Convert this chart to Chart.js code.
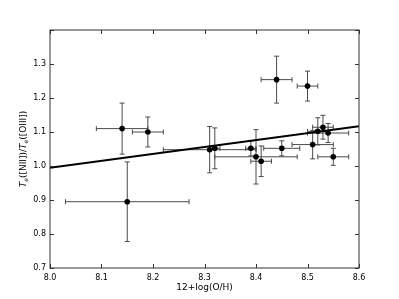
<!DOCTYPE html>
<html lang="en">
<head>
  <meta charset="UTF-8" />
  <title>Te ratio vs metallicity</title>
  <script src="https://cdn.jsdelivr.net/npm/chart.js"></script>
  <style>
    body { margin: 0; background: #fff; }
    #wrap { width: 399px; height: 299px; }
  </style>
</head>
<body>
  <div id="wrap"><canvas id="chart" width="399" height="299"></canvas></div>

  <script>
    // measured points (12+log(O/H), Te ratio) with errors
    const oh    = [8.14, 8.19, 8.15, 8.31, 8.32, 8.39, 8.40, 8.41, 8.45, 8.51, 8.52, 8.53, 8.54, 8.55, 8.44, 8.50];
    const ratio = [1.11, 1.10, 0.895, 1.048, 1.052, 1.052, 1.027, 1.014, 1.052, 1.063, 1.102, 1.114, 1.097, 1.027, 1.254, 1.235];
    const ohErr = [0.05, 0.03, 0.12, 0.09, 0.01, 0.01, 0.08, 0.02, 0.035, 0.04, 0.02, 0.02, 0.04, 0.03, 0.03, 0.02];
    const ratioErr = [0.075, 0.044, 0.117, 0.068, 0.06, 0.022, 0.08, 0.045, 0.022, 0.042, 0.04, 0.035, 0.028, 0.025, 0.069, 0.044];

    // linear fit end points
    const fitX = [8.0, 8.6];
    const fitY = [0.995, 1.117];

    const xTicks = [8.0, 8.1, 8.2, 8.3, 8.4, 8.5, 8.6];
    const yTicks = [0.7, 0.8, 0.9, 1.0, 1.1, 1.2, 1.3, 1.4];

    const FONT = '"DejaVu Sans", sans-serif';

    // error bars, drawn under the points
    const errorBars = {
      id: 'errorBars',
      beforeDatasetsDraw(chart) {
        const ctx = chart.ctx, x = chart.scales.x, y = chart.scales.y;
        const cap = 2.5;
        ctx.save();
        ctx.strokeStyle = '#4a4a4a';
        ctx.lineWidth = 1;
        oh.forEach((v, i) => {
          const px = x.getPixelForValue(v), py = y.getPixelForValue(ratio[i]);
          const x0 = x.getPixelForValue(v - ohErr[i]), x1 = x.getPixelForValue(v + ohErr[i]);
          const y0 = y.getPixelForValue(ratio[i] - ratioErr[i]), y1 = y.getPixelForValue(ratio[i] + ratioErr[i]);
          ctx.beginPath();
          ctx.moveTo(x0, py); ctx.lineTo(x1, py);
          ctx.moveTo(x0, py - cap); ctx.lineTo(x0, py + cap);
          ctx.moveTo(x1, py - cap); ctx.lineTo(x1, py + cap);
          ctx.moveTo(px, y0); ctx.lineTo(px, y1);
          ctx.moveTo(px - cap, y0); ctx.lineTo(px + cap, y0);
          ctx.moveTo(px - cap, y1); ctx.lineTo(px + cap, y1);
          ctx.stroke();
        });
        ctx.restore();
      }
    };

    // frame, inward ticks on all sides, axis titles
    const frame = {
      id: 'frame',
      afterDraw(chart) {
        const ctx = chart.ctx, a = chart.chartArea, x = chart.scales.x, y = chart.scales.y;
        ctx.save();
        ctx.strokeStyle = '#333';
        ctx.lineWidth = 1;
        ctx.strokeRect(a.left, a.top, a.right - a.left, a.bottom - a.top);
        ctx.beginPath();
        xTicks.forEach(v => {
          const p = Math.round(x.getPixelForValue(v)) + 0.5;
          ctx.moveTo(p, a.bottom); ctx.lineTo(p, a.bottom - 4);
          ctx.moveTo(p, a.top); ctx.lineTo(p, a.top + 4);
        });
        yTicks.forEach(v => {
          const p = Math.round(y.getPixelForValue(v)) + 0.5;
          ctx.moveTo(a.left, p); ctx.lineTo(a.left + 4, p);
          ctx.moveTo(a.right, p); ctx.lineTo(a.right - 4, p);
        });
        ctx.stroke();

        // x title
        ctx.fillStyle = '#000';
        ctx.font = '9px ' + FONT;
        ctx.textAlign = 'center';
        ctx.textBaseline = 'middle';
        ctx.fillText('12+log(O/H)', (a.left + a.right) / 2, 288);

        // y title: T_e([NII])/T_e([OIII])
        const parts = [
          { t: 'T', f: 'italic 9px ' + FONT, dy: 0 },
          { t: 'e', f: 'italic 6px ' + FONT, dy: 2 },
          { t: '([NII])/', f: '9px ' + FONT, dy: 0 },
          { t: 'T', f: 'italic 9px ' + FONT, dy: 0 },
          { t: 'e', f: 'italic 6px ' + FONT, dy: 2 },
          { t: '([OIII])', f: '9px ' + FONT, dy: 0 }
        ];
        let w = 0;
        parts.forEach(p => { ctx.font = p.f; p.w = ctx.measureText(p.t).width; w += p.w; });
        ctx.translate(24, (a.top + a.bottom) / 2);
        ctx.rotate(-Math.PI / 2);
        ctx.textAlign = 'left';
        let cx = -w / 2;
        parts.forEach(p => {
          ctx.font = p.f;
          ctx.fillText(p.t, cx, p.dy);
          cx += p.w;
        });
        ctx.restore();
      }
    };

    new Chart(document.getElementById('chart'), {
      type: 'scatter',
      data: {
        datasets: [
          {
            label: 'fit',
            type: 'line',
            data: fitX.map((v, i) => ({ x: v, y: fitY[i] })),
            borderColor: '#000',
            borderWidth: 2,
            pointRadius: 0,
            fill: false
          },
          {
            label: 'data',
            data: oh.map((v, i) => ({ x: v, y: ratio[i] })),
            backgroundColor: '#000',
            borderColor: '#000',
            pointRadius: 2.8,
            pointBorderWidth: 0
          }
        ]
      },
      options: {
        responsive: false,
        animation: false,
        layout: { padding: { left: 0, top: 30, right: 40, bottom: 0 } },
        plugins: { legend: { display: false }, tooltip: { enabled: false } },
        scales: {
          x: {
            type: 'linear',
            min: 8.0,
            max: 8.6,
            afterFit: s => { s.height = 31; },
            afterBuildTicks: s => { s.ticks = xTicks.map(v => ({ value: v })); },
            grid: { display: false, drawTicks: false },
            border: { display: false },
            ticks: {
              padding: 5,
              color: '#000',
              font: { family: FONT, size: 8 },
              maxRotation: 0,
              callback: v => v.toFixed(1)
            }
          },
          y: {
            min: 0.7,
            max: 1.4,
            afterFit: s => { s.width = 50; },
            afterBuildTicks: s => { s.ticks = yTicks.map(v => ({ value: v })); },
            grid: { display: false, drawTicks: false },
            border: { display: false },
            ticks: {
              padding: 4,
              color: '#000',
              font: { family: FONT, size: 8 },
              callback: v => (Math.abs(v - 1.4) < 1e-6 ? '' : v.toFixed(1))
            }
          }
        }
      },
      plugins: [errorBars, frame]
    });
  </script>
</body>
</html>
